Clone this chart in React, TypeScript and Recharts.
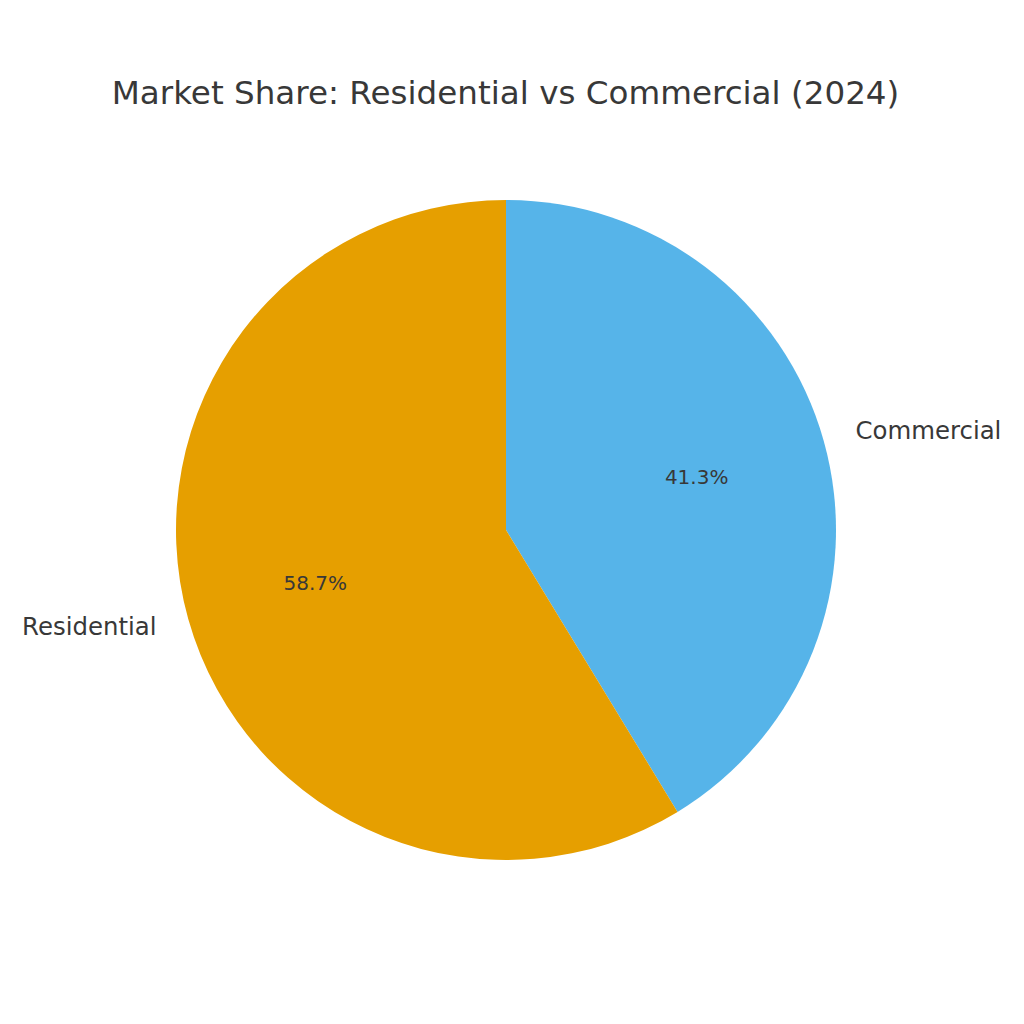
import React from "react";
import { Cell, Pie, PieChart } from "recharts";

const SEGMENTS = ["Commercial", "Residential"];
const SHARES = [41.3, 58.7];
const COLORS = ["#56B4E9", "#E69F00"];

const TITLE = "Market Share: Residential vs Commercial (2024)";
const TEXT = "#383838";
const FONT = "'DejaVu Sans', sans-serif";
const RADIAN = Math.PI / 180;

const data = SEGMENTS.map((name, i) => ({ name, value: SHARES[i] }));

function renderLabel(props: any) {
  const { cx, cy, midAngle, outerRadius, percent, name } = props;
  const cos = Math.cos(-midAngle * RADIAN);
  const sin = Math.sin(-midAngle * RADIAN);
  const lx = cx + outerRadius * 1.1 * cos;
  const ly = cy + outerRadius * 1.1 * sin;
  const px = cx + outerRadius * 0.6 * cos;
  const py = cy + outerRadius * 0.6 * sin;
  return (
    <g>
      <text
        x={lx}
        y={ly}
        dy={7}
        textAnchor={cos >= 0 ? "start" : "end"}
        fill={TEXT}
        fontSize={24.4}
        fontFamily={FONT}
      >
        {name}
      </text>
      <text
        x={px}
        y={py}
        dy={7}
        textAnchor="middle"
        fill={TEXT}
        fontSize={20}
        fontFamily={FONT}
      >
        {(percent * 100).toFixed(1)}%
      </text>
    </g>
  );
}

export default function App() {
  return (
    <div
      style={{
        position: "absolute",
        left: 0,
        top: 0,
        width: 1024,
        height: 1024,
        background: "#fff",
      }}
    >
      <div
        style={{
          position: "absolute",
          left: 0,
          top: 77,
          width: 1011,
          textAlign: "center",
          fontFamily: FONT,
          fontSize: 32.6,
          lineHeight: "33px",
          color: TEXT,
        }}
      >
        {TITLE}
      </div>
      <PieChart
        width={1024}
        height={1024}
        margin={{ top: 0, right: 0, bottom: 0, left: 0 }}
      >
        <Pie
          data={data}
          dataKey="value"
          nameKey="name"
          cx={506}
          cy={530}
          outerRadius={330}
          startAngle={90}
          endAngle={-270}
          stroke="none"
          label={renderLabel}
          labelLine={false}
          isAnimationActive={false}
        >
          {data.map((d, i) => (
            <Cell key={d.name} fill={COLORS[i]} />
          ))}
        </Pie>
      </PieChart>
    </div>
  );
}
